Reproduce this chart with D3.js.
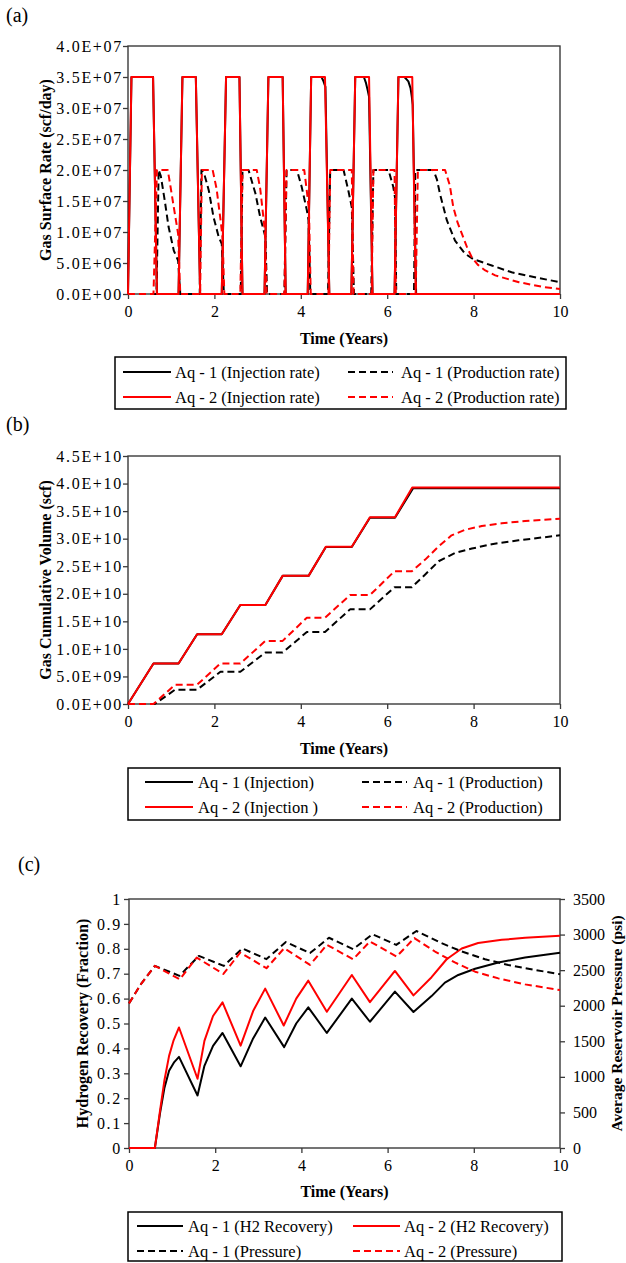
<!DOCTYPE html>
<html>
<head>
<meta charset="utf-8">
<script src="https://cdn.jsdelivr.net/npm/d3@7"></script>
<style>
  body { margin: 0; background: #fff; }
  svg text { font-family: "Liberation Serif", "Times New Roman", Times, serif; fill: #000; }
</style>
</head>
<body>
<div id="chart"></div>
<script>
// ---- DATA ----
const yearTicks = [0, 2, 4, 6, 8, 10];
const rateTicks = [0, 5e6, 1e7, 1.5e7, 2e7, 2.5e7, 3e7, 3.5e7, 4e7];
const cumTicks = [0, 5e9, 1e10, 1.5e10, 2e10, 2.5e10, 3e10, 3.5e10, 4e10, 4.5e10];
const recTicks = [0, 0.1, 0.2, 0.3, 0.4, 0.5, 0.6, 0.7, 0.8, 0.9, 1];
const presTicks = [0, 500, 1000, 1500, 2000, 2500, 3000, 3500];

// (a) gas surface rate, scf/day  [year, value]
const injRateAq1 = [[0,0],[0.08,3.5e7],[0.58,3.5e7],[0.67,0],[1.17,0],[1.26,3.5e7],[1.57,3.5e7],[1.67,0],
  [2.17,0],[2.27,3.5e7],[2.58,3.5e7],[2.65,0],[3.16,0],[3.25,3.5e7],[3.58,3.5e7],[3.65,0],
  [4.16,0],[4.24,3.5e7],[4.48,3.5e7],[4.52,3.44e7],[4.57,3.34e7],[4.66,0],
  [5.17,0],[5.26,3.5e7],[5.46,3.5e7],[5.51,3.4e7],[5.55,3.28e7],[5.58,3.18e7],[5.66,0],
  [6.17,0],[6.26,3.5e7],[6.4,3.5e7],[6.49,3.43e7],[6.54,3.32e7],[6.57,3.18e7],[6.59,3.05e7],[6.67,0],[10,0]];
const prodRateAq1 = [[0,0],[0.66,0],[0.71,2e7],[0.76,1.9e7],[0.85,1.51e7],[0.94,1.08e7],[1.06,7e6],[1.16,5.4e6],[1.21,0],
  [1.66,0],[1.7,2e7],[1.76,1.95e7],[1.87,1.67e7],[1.98,1.24e7],[2.1,9.2e6],[2.17,8.1e6],[2.22,0],
  [2.61,0],[2.65,2e7],[2.79,2e7],[2.95,1.62e7],[3.06,1.24e7],[3.18,9.2e6],[3.22,0],
  [3.62,0],[3.67,2e7],[3.91,2e7],[4.02,1.73e7],[4.14,1.35e7],[4.18,1.19e7],[4.22,0],
  [4.63,0],[4.68,2e7],[4.99,2e7],[5.1,1.67e7],[5.18,1.4e7],[5.23,0],
  [5.63,0],[5.68,2e7],[6.03,2e7],[6.14,1.73e7],[6.18,1.56e7],[6.21,0],
  [6.62,0],[6.65,2e7],[7.07,2e7],[7.15,1.85e7],[7.22,1.62e7],[7.38,1.19e7],[7.57,8.6e6],[7.8,6.5e6],
  [8.0,5.6e6],[8.42,4.6e6],[8.88,3.5e6],[9.42,2.7e6],[10,1.9e6]];
const injRateAq2 = [[0,0],[0.08,3.5e7],[0.58,3.5e7],[0.67,0],[1.17,0],[1.26,3.5e7],[1.57,3.5e7],[1.67,0],
  [2.17,0],[2.27,3.5e7],[2.58,3.5e7],[2.65,0],[3.16,0],[3.25,3.5e7],[3.58,3.5e7],[3.65,0],
  [4.16,0],[4.24,3.5e7],[4.56,3.5e7],[4.66,0],[5.17,0],[5.26,3.5e7],[5.58,3.5e7],[5.66,0],
  [6.17,0],[6.26,3.5e7],[6.58,3.5e7],[6.66,0],[10,0]];
const prodRateAq2 = [[0,0],[0.59,0],[0.67,2e7],[0.92,2e7],[0.98,1.75e7],[1.06,1.4e7],[1.13,1.1e7],[1.16,9.7e6],[1.21,0],
  [1.67,0],[1.71,2e7],[1.96,2e7],[2.05,1.7e7],[2.15,1.15e7],[2.19,9e6],[2.23,0],
  [2.6,0],[2.65,2e7],[2.98,2e7],[3.06,1.7e7],[3.14,1.2e7],[3.17,1e7],[3.21,0],
  [3.62,0],[3.67,2e7],[4.08,2e7],[4.15,1.6e7],[4.19,1.35e7],[4.23,0],
  [4.64,0],[4.68,2e7],[5.18,2e7],[5.22,0],
  [5.64,0],[5.68,2e7],[6.17,2e7],[6.2,0],
  [6.66,0],[6.71,2e7],[7.34,2e7],[7.45,1.75e7],[7.53,1.4e7],[7.63,1.15e7],[7.73,9.7e6],[7.85,7.5e6],
  [7.96,5.9e6],[8.1,4.7e6],[8.27,3.8e6],[8.5,3.0e6],[8.8,2.4e6],[9.05,1.9e6],[9.34,1.5e6],[9.65,1.1e6],[10,8e5]];

// (b) cumulative gas volume, scf
const cumInjAq1 = [[0,0],[0.59,7.35e9],[1.17,7.35e9],[1.6,1.265e10],[2.17,1.265e10],[2.6,1.795e10],[3.18,1.795e10],
  [3.58,2.325e10],[4.18,2.325e10],[4.58,2.85e10],[5.18,2.85e10],[5.6,3.38e10],[6.18,3.38e10],[6.6,3.915e10],[10,3.915e10]];
const cumProdAq1 = [[0,0],[0.62,0],[1.09,2.6e9],[1.6,2.6e9],[2.14,5.84e9],[2.6,5.84e9],[3.18,9.34e9],[3.58,9.34e9],
  [4.14,1.307e10],[4.56,1.307e10],[5.14,1.717e10],[5.6,1.717e10],[6.17,2.12e10],[6.57,2.12e10],[6.88,2.35e10],
  [7.19,2.59e10],[7.57,2.74e10],[7.96,2.82e10],[8.42,2.9e10],[9.04,2.97e10],[10,3.06e10]];
const cumInjAq2 = [[0,0],[0.59,7.35e9],[1.17,7.35e9],[1.6,1.265e10],[2.17,1.265e10],[2.6,1.795e10],[3.18,1.795e10],
  [3.58,2.325e10],[4.18,2.325e10],[4.58,2.855e10],[5.18,2.855e10],[5.6,3.39e10],[6.18,3.39e10],[6.58,3.93e10],[10,3.93e10]];
const cumProdAq2 = [[0,0],[0.59,0],[1.09,3.5e9],[1.6,3.5e9],[2.14,7.35e9],[2.6,7.35e9],[3.18,1.145e10],[3.58,1.145e10],
  [4.14,1.566e10],[4.56,1.566e10],[5.14,1.976e10],[5.6,1.976e10],[6.17,2.41e10],[6.57,2.41e10],[6.88,2.62e10],
  [7.19,2.86e10],[7.49,3.06e10],[7.8,3.16e10],[8.19,3.23e10],[8.65,3.28e10],[9.19,3.32e10],[10,3.36e10]];

// (c) hydrogen recovery (fraction) and average reservoir pressure (psi)
const recAq1 = [[0,0],[0.6,0],[0.72,0.14],[0.82,0.24],[0.93,0.31],[1.05,0.345],[1.16,0.366],[1.59,0.211],
  [1.75,0.33],[1.95,0.41],[2.17,0.462],[2.59,0.328],[2.88,0.44],[3.16,0.524],[3.6,0.405],[3.88,0.5],
  [4.16,0.565],[4.59,0.462],[5.17,0.6],[5.59,0.507],[6.17,0.628],[6.6,0.546],[7.02,0.61],[7.33,0.664],
  [7.64,0.695],[8.03,0.72],[8.57,0.745],[9.19,0.765],[10,0.784]];
const recAq2 = [[0,0],[0.6,0],[0.72,0.15],[0.82,0.27],[0.93,0.37],[1.03,0.43],[1.16,0.484],[1.59,0.278],
  [1.75,0.43],[1.95,0.53],[2.17,0.585],[2.59,0.411],[2.88,0.55],[3.16,0.64],[3.59,0.492],[3.88,0.6],
  [4.16,0.672],[4.59,0.547],[5.17,0.695],[5.59,0.586],[6.17,0.711],[6.6,0.613],[7.02,0.686],[7.37,0.758],
  [7.72,0.801],[8.1,0.823],[8.65,0.836],[9.19,0.844],[10,0.852]];
const presAq1 = [[0,2033],[0.29,2315],[0.6,2560],[1.17,2420],[1.62,2700],[2.2,2560],[2.63,2805],[3.19,2655],
  [3.64,2895],[4.2,2740],[4.64,2955],[5.2,2795],[5.65,3005],[6.2,2855],[6.67,3050],[7.25,2880],[7.72,2762],
  [8.26,2653],[8.8,2573],[9.42,2503],[10,2443]];
const presAq2 = [[0,2033],[0.29,2315],[0.6,2560],[1.18,2371],[1.57,2677],[2.19,2446],[2.58,2747],[3.19,2527],
  [3.6,2808],[4.2,2573],[4.59,2856],[5.2,2653],[5.59,2903],[6.21,2691],[6.62,2950],[7.1,2762],[7.56,2608],
  [8.03,2478],[8.57,2384],[9.19,2300],[10,2220]];

// ---- SETTINGS ----
const width = 626, height = 1263;
const serif = '"Liberation Serif", "Times New Roman", Times, serif';
const axisColor = '#3a3a3a';
const red = '#ff0000';
const dash = '7,4';

const svg = d3.select('#chart').append('svg')
    .attr('width', width)
    .attr('height', height)
    .attr('font-family', serif);
svg.append('rect').attr('width', width).attr('height', height).attr('fill', '#fff');

const sci = v => {
    if (v === 0) return '0.0E+00';
    const e = Math.floor(Math.log10(v) + 1e-9);
    return (v / Math.pow(10, e)).toFixed(1) + 'E+' + String(e).padStart(2, '0');
};

const styleAxis = (sel, size) => {
    sel.attr('font-family', serif);
    sel.select('.domain').remove();
    sel.selectAll('line').attr('stroke', axisColor).attr('stroke-width', 1.3);
    sel.selectAll('text').attr('font-size', size).attr('fill', '#000').attr('font-family', serif);
};

function panel(cfg) {
    const x = d3.scaleLinear().domain([0, 10]).range([cfg.left, cfg.right]);
    const y = d3.scaleLinear().domain([cfg.yTicks[0], cfg.yTicks[cfg.yTicks.length - 1]]).range([cfg.bottom, cfg.top]);
    const y2 = cfg.y2Ticks
        ? d3.scaleLinear().domain([0, cfg.y2Ticks[cfg.y2Ticks.length - 1]]).range([cfg.bottom, cfg.top])
        : null;
    const g = svg.append('g');

    // panel label
    g.append('text').attr('x', cfg.labelX).attr('y', cfg.labelY)
        .attr('font-size', 20).text(cfg.label);

    // axes
    g.append('g').attr('transform', `translate(0,${cfg.bottom})`)
        .call(d3.axisBottom(x).tickValues(yearTicks).tickSize(5).tickPadding(7))
        .call(s => styleAxis(s, 16));
    g.append('g').attr('transform', `translate(${cfg.left},0)`)
        .call(d3.axisLeft(y).tickValues(cfg.yTicks).tickSize(5).tickPadding(cfg.yPad).tickFormat(cfg.yFormat))
        .call(s => styleAxis(s, 16))
        .selectAll('text').attr('letter-spacing', 1.7);
    if (y2) {
        g.append('g').attr('transform', `translate(${cfg.right},0)`)
            .call(d3.axisRight(y2).tickValues(cfg.y2Ticks).tickSize(5).tickPadding(8).tickFormat(d => String(d)))
            .call(s => styleAxis(s, 16));
    }

    // frame
    g.append('rect')
        .attr('x', cfg.left).attr('y', cfg.top)
        .attr('width', cfg.right - cfg.left).attr('height', cfg.bottom - cfg.top)
        .attr('fill', 'none').attr('stroke', axisColor).attr('stroke-width', 1.4);

    // axis titles
    g.append('text')
        .attr('x', (cfg.left + cfg.right) / 2).attr('y', cfg.xTitleY)
        .attr('text-anchor', 'middle').attr('font-size', 16).attr('font-weight', 'bold')
        .text('Time (Years)');
    g.append('text')
        .attr('transform', `translate(${cfg.yTitleX},${(cfg.top + cfg.bottom) / 2}) rotate(-90)`)
        .attr('dy', '0.35em')
        .attr('text-anchor', 'middle').attr('font-size', 16).attr('font-weight', 'bold')
        .text(cfg.yTitle);
    if (cfg.y2Title) {
        g.append('text')
            .attr('transform', `translate(${cfg.y2TitleX},${(cfg.top + cfg.bottom) / 2}) rotate(-90)`)
            .attr('dy', '0.35em')
            .attr('text-anchor', 'middle').attr('font-size', 15.5).attr('font-weight', 'bold')
            .text(cfg.y2Title);
    }

    // series
    cfg.series.forEach(s => {
        const ys = s.right ? y2 : y;
        const line = d3.line().x(d => x(d[0])).y(d => ys(d[1]));
        g.append('path').datum(s.data)
            .attr('d', line)
            .attr('fill', 'none')
            .attr('stroke', s.color)
            .attr('stroke-width', 2)
            .attr('stroke-linejoin', 'round')
            .attr('stroke-dasharray', s.dashed ? dash : null);
    });

    // legend
    const L = cfg.legend;
    g.append('rect')
        .attr('x', L.x0).attr('y', L.y0)
        .attr('width', L.x1 - L.x0).attr('height', L.y1 - L.y0)
        .attr('fill', '#fff').attr('stroke', '#000').attr('stroke-width', 1.5);
    cfg.series.forEach(s => {
        const c = L.cols[s.col], yy = L.rows[s.row];
        g.append('line')
            .attr('x1', c[0]).attr('x2', c[1]).attr('y1', yy).attr('y2', yy)
            .attr('stroke', s.color).attr('stroke-width', 2)
            .attr('stroke-dasharray', s.dashed ? dash : null);
        g.append('text')
            .attr('x', c[2]).attr('y', yy).attr('dy', '0.34em')
            .attr('font-size', 16.5)
            .text(s.name);
    });
}

// (a)
panel({
    label: '(a)', labelX: 6, labelY: 22,
    left: 128, right: 560, top: 46, bottom: 294,
    yTicks: rateTicks, yFormat: sci, yPad: 0,
    yTitle: 'Gas Surface Rate (scf/day)', yTitleX: 45, xTitleY: 344,
    series: [
        { data: injRateAq1, color: '#000', dashed: false, right: false, name: 'Aq - 1 (Injection rate)', row: 0, col: 0 },
        { data: prodRateAq1, color: '#000', dashed: true, right: false, name: 'Aq - 1 (Production rate)', row: 0, col: 1 },
        { data: injRateAq2, color: red, dashed: false, right: false, name: 'Aq - 2 (Injection rate)', row: 1, col: 0 },
        { data: prodRateAq2, color: red, dashed: true, right: false, name: 'Aq - 2 (Production rate)', row: 1, col: 1 }
    ],
    legend: { x0: 115, x1: 566, y0: 357, y1: 409, rows: [372, 397], cols: [[123, 171, 175], [348, 393, 401]] }
});

// (b)
panel({
    label: '(b)', labelX: 6, labelY: 431,
    left: 128, right: 560, top: 456, bottom: 704,
    yTicks: cumTicks, yFormat: sci, yPad: 0,
    yTitle: 'Gas Cumulative Volume (scf)', yTitleX: 45, xTitleY: 754,
    series: [
        { data: cumInjAq1, color: '#000', dashed: false, right: false, name: 'Aq - 1 (Injection)', row: 0, col: 0 },
        { data: cumProdAq1, color: '#000', dashed: true, right: false, name: 'Aq - 1 (Production)', row: 0, col: 1 },
        { data: cumInjAq2, color: red, dashed: false, right: false, name: 'Aq - 2 (Injection )', row: 1, col: 0 },
        { data: cumProdAq2, color: red, dashed: true, right: false, name: 'Aq - 2 (Production)', row: 1, col: 1 }
    ],
    legend: { x0: 128, x1: 560, y0: 768, y1: 820, rows: [782, 807], cols: [[145, 193, 198], [362, 407, 413]] }
});

// (c)
panel({
    label: '(c)', labelX: 18, labelY: 871,
    left: 129, right: 560, top: 899, bottom: 1148,
    yTicks: recTicks, yFormat: d => String(d), yPad: 2,
    y2Ticks: presTicks,
    yTitle: 'Hydrogen Recovery (Fraction)', yTitleX: 82, xTitleY: 1197,
    y2Title: 'Average Reservoir Pressure (psi)', y2TitleX: 617,
    series: [
        { data: recAq1, color: '#000', dashed: false, right: false, name: 'Aq - 1 (H2 Recovery)', row: 0, col: 0 },
        { data: recAq2, color: red, dashed: false, right: false, name: 'Aq - 2 (H2 Recovery)', row: 0, col: 1 },
        { data: presAq1, color: '#000', dashed: true, right: true, name: 'Aq - 1 (Pressure)', row: 1, col: 0 },
        { data: presAq2, color: red, dashed: true, right: true, name: 'Aq - 2 (Pressure)', row: 1, col: 1 }
    ],
    legend: { x0: 128, x1: 562, y0: 1212, y1: 1261, rows: [1226, 1251], cols: [[137, 183, 188], [353, 400, 404]] }
});
</script>
</body>
</html>
